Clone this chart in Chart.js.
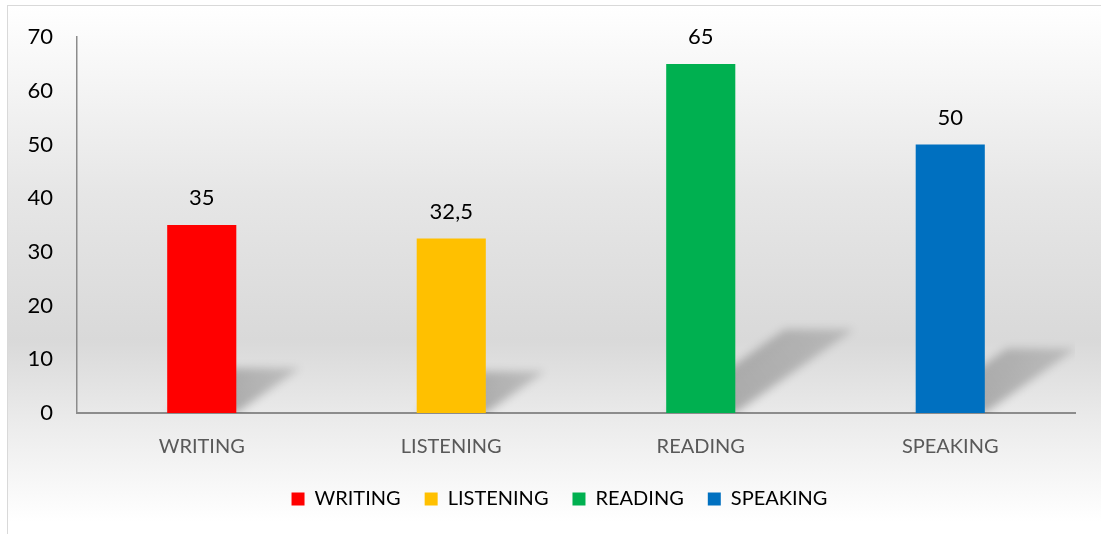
<!DOCTYPE html>
<html>
<head>
<meta charset="utf-8">
<script src="https://cdn.jsdelivr.net/npm/chart.js@4"></script>
<style>
  html, body { margin: 0; padding: 0; background: #fff; width: 1101px; height: 534px; overflow: hidden; }
  #frame {
    position: absolute; left: 7px; top: 5px; width: 1100px; height: 540px;
    border: 1px solid #d9d9d9; box-sizing: border-box;
    background: linear-gradient(to bottom, #ffffff 0%, #e6e6e6 35%, #d9d9d9 62%, #ececec 78%, #ffffff 96%);
  }
  #chart { position: absolute; left: 0; top: 0; }
</style>
</head>
<body>
<div id="frame"></div>
<canvas id="chart" width="1101" height="534"></canvas>
<script>
// Skills scores
const categories = ['WRITING', 'LISTENING', 'READING', 'SPEAKING'];
const scores = [35, 32.5, 65, 50];
const barColors = ['#ff0000', '#ffc000', '#00b050', '#0070c0'];
const yTicks = [0, 10, 20, 30, 40, 50, 60, 70];

const FONT = 'Lato, "Open Sans", sans-serif';

// Perspective shadow behind each bar
const barShadows = {
  id: 'barShadows',
  beforeDatasetsDraw(chart) {
    const ctx = chart.ctx;
    const area = chart.chartArea;
    const meta = chart.getDatasetMeta(0);
    ctx.save();
    ctx.beginPath();
    ctx.rect(area.left, area.top, area.right - area.left, area.bottom - area.top);
    ctx.clip();
    ctx.filter = 'blur(4px)';
    meta.data.forEach(bar => {
      const h = bar.base - bar.y;
      const left = bar.x - bar.width / 2;
      const right = bar.x + bar.width / 2;
      const dx = h * 0.34;
      const dy = h * 0.24;
      const grad = ctx.createLinearGradient(right, bar.base, right + dx, bar.base - dy);
      grad.addColorStop(0, 'rgba(0,0,0,0.26)');
      grad.addColorStop(1, 'rgba(0,0,0,0.14)');
      ctx.fillStyle = grad;
      ctx.beginPath();
      ctx.moveTo(left, bar.base);
      ctx.lineTo(right, bar.base);
      ctx.lineTo(right + dx, bar.base - dy);
      ctx.lineTo(left + dx, bar.base - dy);
      ctx.closePath();
      ctx.fill();
    });
    ctx.restore();
  }
};

// Value labels above bars
const valueLabels = {
  id: 'valueLabels',
  afterDatasetsDraw(chart) {
    const ctx = chart.ctx;
    const meta = chart.getDatasetMeta(0);
    ctx.save();
    ctx.font = '22px ' + FONT;
    ctx.fillStyle = '#000';
    ctx.textAlign = 'center';
    ctx.textBaseline = 'middle';
    meta.data.forEach((bar, i) => {
      ctx.fillText(String(scores[i]).replace('.', ','), bar.x, bar.y - 27);
    });
    ctx.restore();
  }
};

// Center the legend on the whole frame rather than on the plot
const legendShift = {
  id: 'legendShift',
  afterLayout(chart) {
    if (chart.legend) chart.legend.left += 44;
  }
};

new Chart(document.getElementById('chart'), {
  type: 'bar',
  data: {
    labels: categories,
    datasets: [{
      label: 'Score',
      data: scores,
      backgroundColor: barColors,
      categoryPercentage: 1,
      barPercentage: 0.277
    }]
  },
  options: {
    responsive: false,
    animation: false,
    layout: { padding: { top: 35, right: 26, bottom: 15, left: 0 } },
    scales: {
      x: {
        grid: { display: false, drawTicks: false },
        border: { display: true, color: '#8c8c8c', width: 2 },
        ticks: { color: '#595959', font: { family: FONT, size: 20 }, padding: 22 },
        afterFit(scale) { scale.height = 52; }
      },
      y: {
        min: 0,
        max: 70,
        grid: { display: false, drawTicks: false },
        border: { display: true, color: '#8c8c8c', width: 1.5 },
        afterBuildTicks(scale) { scale.ticks = yTicks.map(v => ({ value: v })); },
        ticks: { color: '#000', font: { family: FONT, size: 22 }, padding: 24 },
        afterFit(scale) { scale.width = 77; }
      }
    },
    plugins: {
      tooltip: { enabled: false },
      legend: {
        position: 'bottom',
        labels: {
          boxWidth: 13,
          boxHeight: 13,
          padding: 24,
          color: '#595959',
          font: { family: FONT, size: 20 },
          generateLabels() {
            return categories.map((c, i) => ({
              text: c,
              fillStyle: barColors[i],
              strokeStyle: barColors[i],
              lineWidth: 0,
              hidden: false,
              index: i
            }));
          }
        }
      }
    }
  },
  plugins: [barShadows, valueLabels, legendShift]
});
</script>
</body>
</html>
